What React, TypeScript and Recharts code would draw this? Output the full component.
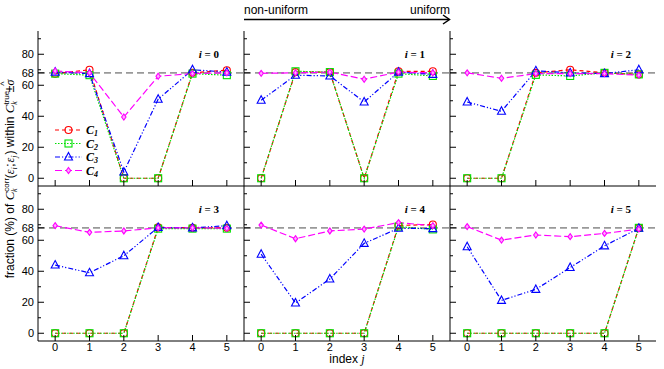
import React from 'react';
import { LineChart, Line, XAxis, YAxis, ReferenceLine, Legend } from 'recharts';

// index j along the x axis
const jIndex = [0, 1, 2, 3, 4, 5];
const panelIndex = [0, 1, 2, 3, 4, 5];
const yTicks = [0, 10, 20, 30, 40, 50, 60, 68, 70, 80, 90];
const yLabeled = [0, 20, 40, 60, 68, 80];

// fraction (%) per panel i (rows) and index j (columns)
const c1 = [
  [67.5, 70, 0, 0, 68, 69.7],
  [0, 68.5, 68.5, 0, 69, 69],
  [0, 0, 68, 70, 68, 67],
  [0, 0, 0, 68.3, 68, 68],
  [0, 0, 0, 0, 69.5, 70.2],
  [0, 0, 0, 0, 0, 68],
];
const c2 = [
  [67.5, 66.5, 0, 0, 67.5, 66.5],
  [0, 69, 68.5, 0, 67.5, 66],
  [0, 0, 66.7, 66, 68, 67],
  [0, 0, 0, 67.5, 67.5, 67.5],
  [0, 0, 0, 0, 68.8, 67],
  [0, 0, 0, 0, 0, 68],
];
const c3 = [
  [68.5, 67.5, 4, 51, 70, 68.5],
  [50.3, 66.5, 66, 49.2, 68.5, 67],
  [49.2, 43.2, 69.3, 68, 67.5, 70],
  [44, 39, 50, 68.3, 68, 69.4],
  [51, 19.5, 35, 58, 67.7, 67.5],
  [55.8, 21.2, 28.3, 42.4, 56.4, 67.7],
];
const c4 = [
  [69.2, 68, 39.5, 65.8, 67.5, 68],
  [67.7, 68, 68.5, 63.9, 68.5, 68],
  [68, 64.5, 67.5, 67.5, 67.5, 66.5],
  [69.4, 65.1, 66, 68, 68, 67.7],
  [69.8, 61, 66, 67.2, 71.4, 69.4],
  [68.8, 60.1, 63.4, 62.3, 64.4, 67.2],
];

const series = [
  { key: 'c1', sub: '1', color: '#ff0000', dash: '4 3', shape: 'circle' },
  { key: 'c2', sub: '2', color: '#00e000', dash: '1.5 1.5', shape: 'square' },
  { key: 'c3', sub: '3', color: '#0000ff', dash: '5 2 1.2 2 1.2 2', shape: 'triangle' },
  { key: 'c4', sub: '4', color: '#ff00ff', dash: '7 3', shape: 'diamond' },
];

// layout
const X0 = 38;
const Y0 = 31;
const W = 206;
const H = 155;
const ML = 36;
const MT = 5;
const MR = 5;
const MB = 28;
const SANS = '"Liberation Sans", Arial, sans-serif';
const SERIF = '"Liberation Serif", "Times New Roman", serif';

function Marker({ shape, cx, cy, color }: any) {
  if (cx == null || cy == null) return null;
  if (shape === 'circle') return <circle cx={cx} cy={cy} r={3.5} fill="none" stroke={color} strokeWidth={1.1} />;
  if (shape === 'square') return <rect x={cx - 3.5} y={cy - 3.5} width={7} height={7} fill="none" stroke={color} strokeWidth={1.1} />;
  if (shape === 'triangle')
    return <polygon points={`${cx},${cy - 4.5} ${cx + 4},${cy + 3} ${cx - 4},${cy + 3}`} fill="none" stroke={color} strokeWidth={1.1} />;
  return <polygon points={`${cx},${cy - 3} ${cx + 2.2},${cy} ${cx},${cy + 3} ${cx - 2.2},${cy}`} fill="#ffaaff" stroke={color} strokeWidth={1.1} />;
}

const leftTick = (showLabel: boolean) => (p: any) => {
  const v = p.payload.value;
  const major = yLabeled.includes(v);
  return (
    <g>
      <line x1={p.x} y1={p.y} x2={p.x + (major ? 6 : 3)} y2={p.y} stroke="#000" />
      {showLabel && major && (
        <text x={p.x - 4} y={p.y + 4} textAnchor="end" fontSize={11} fontFamily={SANS} fill="#000">{v}</text>
      )}
    </g>
  );
};

const rightTick = (p: any) => {
  const major = yLabeled.includes(p.payload.value);
  return <line x1={p.x} y1={p.y} x2={p.x - (major ? 6 : 3)} y2={p.y} stroke="#000" />;
};

const bottomTick = (showLabel: boolean) => (p: any) => (
  <g>
    <line x1={p.x} y1={p.y} x2={p.x} y2={p.y - 6} stroke="#000" />
    {showLabel && (
      <text x={p.x} y={p.y + 10} textAnchor="middle" fontSize={11} fontFamily={SANS} fill="#000">{p.payload.value}</text>
    )}
  </g>
);

const topTick = (p: any) => <line x1={p.x} y1={p.y} x2={p.x} y2={p.y + 6} stroke="#000" />;

function LegendBox() {
  return (
    <svg width={60} height={56} style={{ overflow: 'visible' }}>
      {series.map((s, k) => {
        const y = 7 + k * 13.5;
        return (
          <g key={s.key}>
            <line x1={0} y1={y} x2={27} y2={y} stroke={s.color} strokeWidth={1.2} strokeDasharray={s.dash} />
            <Marker shape={s.shape} cx={13.5} cy={y} color={s.color} />
            <text x={31} y={y + 4} fontFamily={SERIF} fontSize={12} fontStyle="italic" fontWeight="bold">
              C<tspan fontSize={8} dy={2}>{s.sub}</tspan>
            </text>
          </g>
        );
      })}
    </svg>
  );
}

function Panel({ idx }: { idx: number }) {
  const row = Math.floor(idx / 3);
  const col = idx % 3;
  const left = X0 + col * W;
  const top = Y0 + row * H;
  const data = jIndex.map((j, k) => ({ j, c1: c1[idx][k], c2: c2[idx][k], c3: c3[idx][k], c4: c4[idx][k] }));
  return (
    <div style={{ position: 'absolute', left: left - ML, top: top - MT }}>
      <LineChart width={ML + W + MR} height={MT + H + MB} data={data} margin={{ top: MT, right: MR, bottom: 0, left: 0 }}>
        <XAxis xAxisId="b" dataKey="j" type="number" domain={[-0.5, 5.5]} ticks={jIndex} interval={0}
          orientation="bottom" height={MB} tickSize={0} tickMargin={0} tickLine={false}
          axisLine={{ stroke: '#000' }} tick={bottomTick(row === 1)} />
        <XAxis xAxisId="t" dataKey="j" type="number" domain={[-0.5, 5.5]} ticks={jIndex} interval={0}
          orientation="top" height={0} tickSize={0} tickMargin={0} tickLine={false}
          axisLine={{ stroke: '#000' }} tick={topTick} />
        <YAxis yAxisId="l" type="number" domain={[-5, 95]} ticks={yTicks} interval={0} allowDataOverflow
          orientation="left" width={ML} tickSize={0} tickMargin={0} tickLine={false}
          axisLine={{ stroke: '#000' }} tick={leftTick(col === 0)} />
        <YAxis yAxisId="r" type="number" domain={[-5, 95]} ticks={yTicks} interval={0} allowDataOverflow
          orientation="right" width={0} tickSize={0} tickMargin={0} tickLine={false}
          axisLine={{ stroke: '#000' }} tick={rightTick} />
        <ReferenceLine xAxisId="b" yAxisId="l" y={68} stroke="#999999" strokeWidth={1.6} strokeDasharray="7 4" />
        {series.map((s) => (
          <Line key={s.key} xAxisId="b" yAxisId="l" dataKey={s.key} stroke={s.color} strokeWidth={1.2}
            strokeDasharray={s.dash} isAnimationActive={false}
            dot={(p: any) => <Marker key={`${s.key}-${p.index}`} shape={s.shape} cx={p.cx} cy={p.cy} color={s.color} />}
            activeDot={false} />
        ))}
        {idx === 0 && (
          <Legend layout="vertical" align="center" verticalAlign="middle"
            wrapperStyle={{ position: 'absolute', left: 55 - (X0 - ML), top: 123 - (Y0 - MT), width: 60, height: 56 }}
            content={() => <LegendBox />} />
        )}
      </LineChart>
    </div>
  );
}

export default function App() {
  return (
    <div style={{ position: 'absolute', left: 0, top: 0, width: 664, height: 369, background: '#fff', overflow: 'hidden' }}>
      {panelIndex.map((i) => <Panel key={i} idx={i} />)}
      <svg width={664} height={369} style={{ position: 'absolute', left: 0, top: 0, pointerEvents: 'none' }}>
        {panelIndex.map((i) => {
          const row = Math.floor(i / 3);
          const col = i % 3;
          return (
            <text key={i} x={X0 + (col + 1) * W - 25} y={Y0 + row * H + 27} textAnchor="end"
              fontFamily={SERIF} fontSize={11} fontWeight="bold">
              <tspan fontStyle="italic">i</tspan> = {i}
            </text>
          );
        })}
        <text x={244} y={14} fontFamily={SANS} fontSize={12}>non-uniform</text>
        <text x={450} y={14} fontFamily={SANS} fontSize={12} textAnchor="end">uniform</text>
        <line x1={244} y1={19.5} x2={449} y2={19.5} stroke="#000" strokeWidth={1.5} />
        <polyline points="443,15 449.5,19.5 443,24" fill="none" stroke="#000" strokeWidth={1.5} />
        <text x={347} y={363} textAnchor="middle" fontFamily={SANS} fontSize={12}>
          index <tspan fontFamily={SERIF} fontStyle="italic">j</tspan>
        </text>
        <text transform="translate(14,179) rotate(-90)" textAnchor="middle" fontFamily={SANS} fontSize={12}>
          <tspan>fraction (%) of </tspan>
          <tspan fontFamily={SERIF} fontStyle="italic" fontSize={13}>C</tspan>
          <tspan fontSize={8} dy={-5}>corr</tspan>
          <tspan fontSize={8} dx={-14} dy={8} fontFamily={SERIF} fontStyle="italic">k</tspan>
          <tspan dx={10} dy={-3}>(</tspan>
          <tspan fontFamily={SERIF} fontStyle="italic">ε</tspan>
          <tspan fontSize={8} dy={3} fontFamily={SERIF} fontStyle="italic">i</tspan>
          <tspan dy={-3} dx={0.5}>;</tspan>
          <tspan fontFamily={SERIF} fontStyle="italic" dx={1}>ε</tspan>
          <tspan fontSize={8} dy={3} fontFamily={SERIF} fontStyle="italic">j</tspan>
          <tspan dy={-3} dx={1}>) within </tspan>
          <tspan fontFamily={SERIF} fontStyle="italic" fontSize={13}>C</tspan>
          <tspan fontSize={8} dy={-5}>true</tspan>
          <tspan fontSize={8} dx={-14} dy={8} fontFamily={SERIF} fontStyle="italic">k</tspan>
          <tspan dx={9} dy={-3}>±</tspan>
          <tspan fontFamily={SERIF} fontStyle="italic">σ</tspan>
          <tspan dx={-6} dy={-7} fontSize={9}>^</tspan>
        </text>
      </svg>
    </div>
  );
}
